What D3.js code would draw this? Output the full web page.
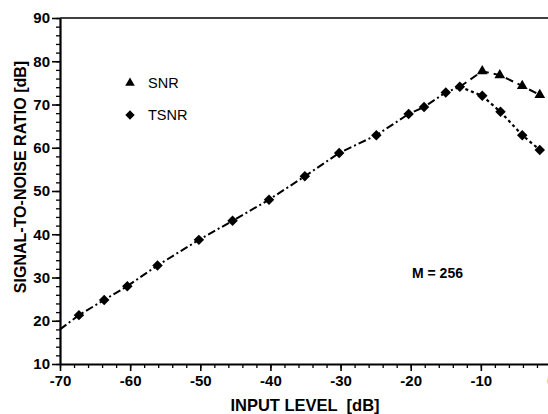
<!DOCTYPE html>
<html>
  <head>
    <title>SNR / TSNR</title>
    <meta charset="utf-8">
    <script src='https://d3js.org/d3.v7.min.js'></script>
    <style>
      body { margin: 0; background: #fff; }
      text { font-family: "Liberation Sans", Arial, sans-serif; fill: #000; }
    </style>
  </head>
  <body>
    <script>

    // values
    var inputLevel = [-67.3, -63.7, -60.4, -56.1, -50.2, -45.4, -40.2, -35.1, -30.2, -24.9, -20.3, -18.1, -15.0, -13.0, -9.8, -7.2, -4.1, -1.6];
    var tsnr = [21.3, 24.8, 28.0, 32.8, 38.7, 43.1, 48.0, 53.4, 58.8, 62.9, 67.8, 69.4, 72.8, 74.1, 72.0, 68.3, 62.9, 59.5];
    var snrLevel = [-9.8, -7.3, -4.1, -1.6];
    var snr = [77.7, 76.8, 74.3, 72.2];
    var lineStart = {x: -70, y: 18};   // curve starts at the axis, no marker there
    var peakIndex = 13;                // where SNR and TSNR split
    var xTicks = [-70, -60, -50, -40, -30, -20, -10, 0];
    var yTicks = [10, 20, 30, 40, 50, 60, 70, 80, 90];

    var width = 548;
    var height = 414;

    var x = d3.scaleLinear().domain([-70, 0]).range([60, 551]);
    var y = d3.scaleLinear().domain([10, 90]).range([364, 18]);

    var svg = d3.select('body').append('svg')
      .attr('width', width)
      .attr('height', height);

    // top frame line
    svg.append('line')
      .attr('x1', x(-70)).attr('x2', x(0))
      .attr('y1', y(90)).attr('y2', y(90))
      .attr('stroke', '#000').attr('stroke-width', 1.5);

    // minor ticks
    var xMinor = d3.range(-70, 1, 2);
    var yMinor = d3.range(10, 91, 2);

    svg.append('g')
      .attr('transform', 'translate(0,' + y(10) + ')')
      .call(d3.axisBottom(x).tickValues(xMinor).tickSize(4).tickFormat(''))
      .call(function(g) { g.select('.domain').remove(); g.selectAll('line').attr('stroke-width', 1.3); });

    svg.append('g')
      .attr('transform', 'translate(' + x(-70) + ',0)')
      .call(d3.axisLeft(y).tickValues(yMinor).tickSize(4).tickFormat(''))
      .call(function(g) { g.select('.domain').remove(); g.selectAll('line').attr('stroke-width', 1.3); });

    // major axes
    var fmt = function(d) { return String(d); };  // plain hyphen minus

    var xAxis = svg.append('g')
      .attr('transform', 'translate(0,' + y(10) + ')')
      .call(d3.axisBottom(x).tickValues(xTicks).tickFormat(fmt).tickSize(7).tickPadding(4).tickSizeOuter(0));
    xAxis.select('.domain').attr('stroke-width', 2.2);
    xAxis.selectAll('line').attr('stroke-width', 1.6);
    xAxis.selectAll('text')
      .style('font-size', '15px').style('font-weight', 'bold');

    var yAxis = svg.append('g')
      .attr('transform', 'translate(' + x(-70) + ',0)')
      .call(d3.axisLeft(y).tickValues(yTicks).tickFormat(fmt).tickSize(8).tickPadding(2).tickSizeOuter(0));
    yAxis.select('.domain').attr('stroke-width', 2.2);
    yAxis.selectAll('line').attr('stroke-width', 1.6);
    yAxis.selectAll('text')
      .style('font-size', '15px').style('font-weight', 'bold');

    // axis titles
    svg.append('text')
      .attr('x', 305).attr('y', 411)
      .attr('text-anchor', 'middle')
      .style('font-size', '16.5px').style('font-weight', 'bold')
      .attr('xml:space', 'preserve')
      .text('INPUT LEVEL  [dB]');

    svg.append('text')
      .attr('transform', 'translate(26,177) rotate(-90)')
      .attr('text-anchor', 'middle')
      .style('font-size', '16px').style('font-weight', 'bold')
      .text('SIGNAL-TO-NOISE RATIO [dB]');

    // lines
    var pts = inputLevel.map(function(d, i) { return {x: d, y: tsnr[i]}; });
    var snrPts = snrLevel.map(function(d, i) { return {x: d, y: snr[i]}; });
    var line = d3.line().x(function(d) { return x(d.x); }).y(function(d) { return y(d.y); });

    var common = [lineStart].concat(pts.slice(0, peakIndex + 1));
    var tsnrTail = pts.slice(peakIndex);
    var snrTail = [pts[peakIndex]].concat(snrPts);

    svg.append('path').datum(common).attr('d', line)
      .attr('fill', 'none').attr('stroke', '#000').attr('stroke-width', 2)
      .attr('stroke-dasharray', '8,3,2,3');

    svg.append('path').datum(tsnrTail).attr('d', line)
      .attr('fill', 'none').attr('stroke', '#000').attr('stroke-width', 2.2)
      .attr('stroke-dasharray', '3,3');

    svg.append('path').datum(snrTail).attr('d', line)
      .attr('fill', 'none').attr('stroke', '#000').attr('stroke-width', 2)
      .attr('stroke-dasharray', '8,5');

    // markers
    var diamond = d3.symbol().type(d3.symbolDiamond2).size(70);
    var triangle = d3.symbol().type(d3.symbolTriangle).size(50);

    svg.selectAll('.tsnr').data(pts).enter().append('path')
      .attr('class', 'tsnr')
      .attr('d', diamond)
      .attr('transform', function(d) { return 'translate(' + x(d.x) + ',' + y(d.y) + ')'; })
      .attr('fill', '#000');

    svg.selectAll('.snr').data(snrPts).enter().append('path')
      .attr('class', 'snr')
      .attr('d', triangle)
      .attr('transform', function(d) { return 'translate(' + x(d.x) + ',' + y(d.y) + ')'; })
      .attr('fill', '#000');

    // legend
    var legend = [{name: 'SNR', sym: triangle, ly: 83}, {name: 'TSNR', sym: diamond, ly: 115}];
    legend.forEach(function(l) {
      svg.append('path').attr('d', l.sym.size(l.name == 'SNR' ? 40 : 55)())
        .attr('transform', 'translate(130,' + l.ly + ')').attr('fill', '#000');
      svg.append('text').attr('x', 148).attr('y', l.ly + 5)
        .style('font-size', '14.5px')
        .text(l.name);
    });

    svg.append('text')
      .attr('x', 412).attr('y', 278)
      .style('font-size', '14px').style('font-weight', 'bold')
      .text('M = 256');

    </script>
  </body>
</html>
